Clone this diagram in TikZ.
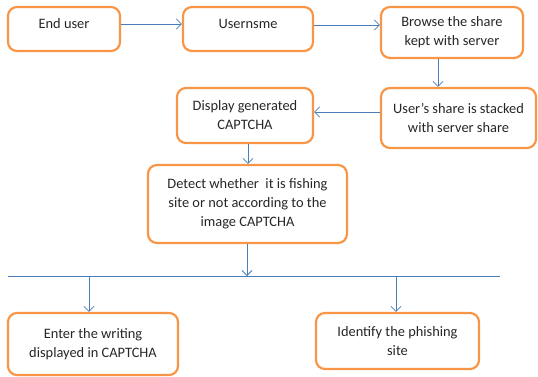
\documentclass[tikz,border=0pt]{standalone}
\usepackage{fontspec}
\setmainfont{Carlito}
\usetikzlibrary{arrows.meta}
\definecolor{boxorange}{HTML}{F79646}
\definecolor{lineblue}{HTML}{4A7EBB}
\tikzset{
  procbox/.style={draw=boxorange, line width=2.2pt, rounded corners=9pt, align=center,
    inner sep=0pt, text=black!85, font=\fontsize{14.4}{19}\selectfont},
  link/.style={draw=lineblue, line width=0.8pt, -{Straight Barb[length=5pt,width=10pt]}},
}
\begin{document}
\begin{tikzpicture}[x=1pt, y=-1pt]
  \useasboundingbox (0,0) rectangle (538,376);
  % Boxes:
  \node[procbox, minimum width=112pt, minimum height=44pt, text height=9pt, text depth=11pt](N1) at (64, 29){End user};
  \node[procbox, minimum width=130pt, minimum height=44pt, text height=9pt, text depth=11pt](N2) at (248, 29){Usernsme};
  \node[procbox, minimum width=142pt, minimum height=51pt](N3) at (452, 32.5){Browse the share\\kept with server};
  \node[procbox, minimum width=155pt, minimum height=60pt](N4) at (458.5, 118){User’s share is stacked\\with server share};
  \node[procbox, minimum width=136pt, minimum height=55pt](N5) at (245, 115.5){Display generated\\CAPTCHA};
  \node[procbox, minimum width=199pt, minimum height=78pt](N6) at (247.5, 204){Detect whether~ it is fishing\\site or not according to the\\image CAPTCHA};
  \node[procbox, minimum width=170pt, minimum height=62pt](N7) at (93, 344){Enter the writing\\displayed in CAPTCHA};
  \node[procbox, minimum width=163pt, minimum height=56pt](N8) at (397.5, 341){Identify the phishing\\site};
  % Connectors:
  \draw[link] ([yshift=5pt]N1.east) -- ([yshift=5pt]N1.east -| N2.west);
  \draw[link] ([yshift=4pt]N2.east) -- ([yshift=4pt]N2.east -| N3.west);
  \draw[link] ([xshift=-14pt]N3.south) -- ([xshift=-14pt]N3.south |- N4.north);
  \draw[link] ([yshift=6pt]N4.west) -- ([yshift=6pt]N4.west -| N5.east);
  \draw[link] ([xshift=3pt]N5.south) -- ([xshift=3pt]N5.south |- N6.north);
  \coordinate (L) at (8, 276);
  \coordinate (R) at (500, 276);
  \coordinate (J) at (247, 276);
  \coordinate (S1) at (89, 276);
  \coordinate (S2) at (396, 276);
  \draw[lineblue, line width=0.8pt] (L) -- (R);
  \draw[link] (N6.south -| J) -- (J);
  \draw[link] (S1) -- (S1 |- N7.north);
  \draw[link] (S2) -- (S2 |- N8.north);
\end{tikzpicture}
\end{document}
